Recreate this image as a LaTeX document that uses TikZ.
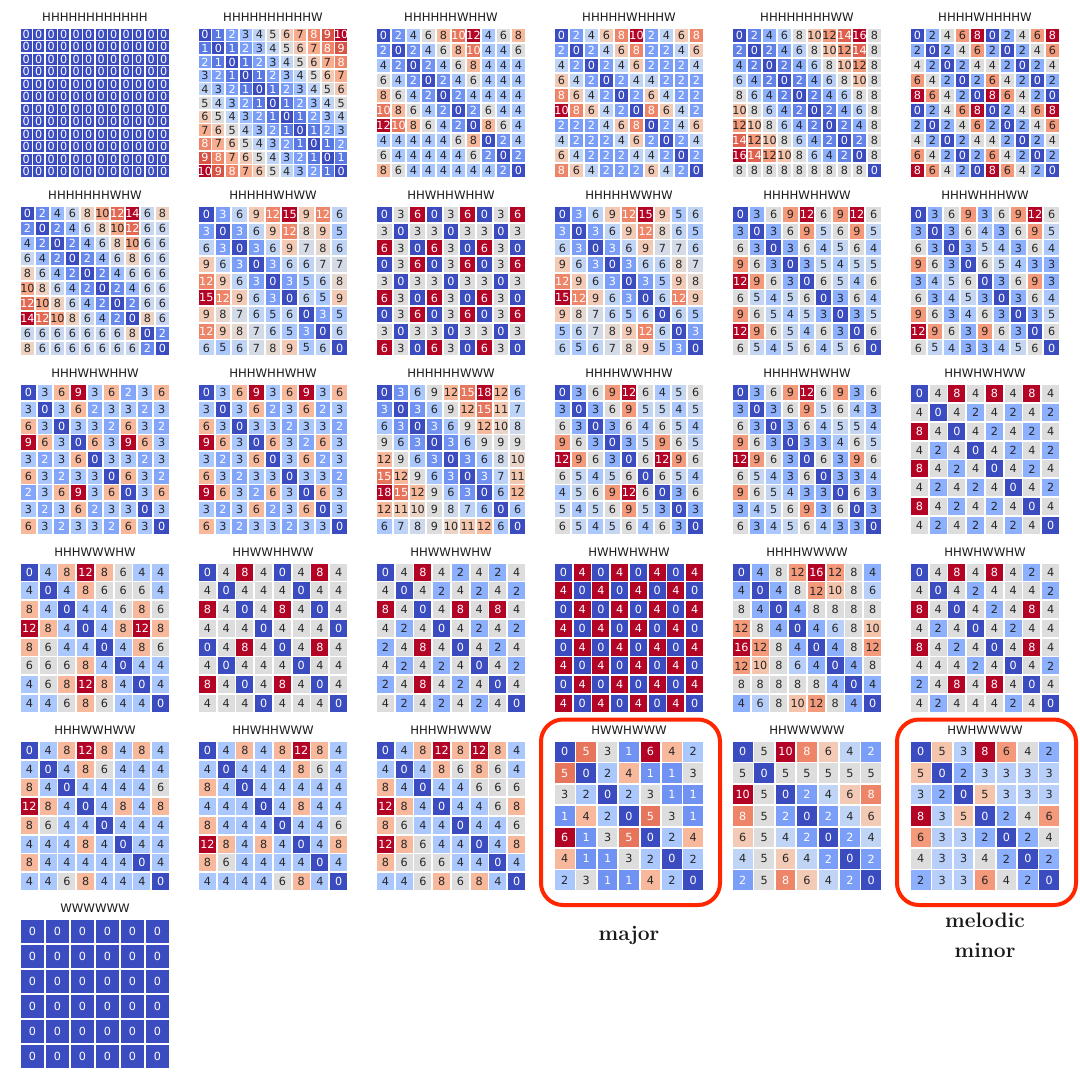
\documentclass[tikz,border=0pt]{standalone}
\usepackage{fontspec}
\newfontfamily\djv{DejaVu Sans}
\ExplSyntaxOn
\intarray_new:Nn \g__my_P_intarray {30}
\intarray_new:Nn \g__my_D_intarray {150}
\int_new:N \g_my_n_int
\int_new:N \g_my_max_int
\int_new:N \l__my_acc_int
\int_new:N \l__my_sum_int
\int_new:N \l__my_idx_int
\int_new:N \l__my_rem_int
\intarray_const_from_clist:Nn \c_my_R_intarray {59,68,77,87,98,108,119,130,141,152,163,174,184,194,204,213,221,229,236,241,245,247,247,247,244,241,236,229,222,213,203,192,180}
\intarray_const_from_clist:Nn \c_my_G_intarray {76,90,104,117,130,142,154,165,176,185,194,201,208,213,217,219,221,216,211,204,196,187,177,166,154,141,127,112,96,80,62,40,4}
\intarray_const_from_clist:Nn \c_my_B_intarray {192,204,215,225,234,241,247,251,254,255,255,253,249,244,238,230,221,209,197,184,172,159,147,134,123,111,99,89,77,66,56,47,38}
\cs_new_protected:Npn \mycompute #1
  {
    \int_gzero:N \g_my_n_int
    \int_zero:N \l__my_acc_int
    \tl_map_inline:nn {#1}
      {
        \int_gincr:N \g_my_n_int
        \intarray_gset:Nnn \g__my_P_intarray { \g_my_n_int } { \l__my_acc_int }
        \str_if_eq:nnTF {##1} {H}
          { \int_add:Nn \l__my_acc_int {1} }
          { \int_add:Nn \l__my_acc_int {2} }
      }
    \int_step_inline:nn { \g_my_n_int }
      {
        \intarray_gset:Nnn \g__my_P_intarray { \g_my_n_int + ##1 }
          { \intarray_item:Nn \g__my_P_intarray {##1} + 12 }
      }
    \int_gzero:N \g_my_max_int
    \int_step_inline:nn { \g_my_n_int }
      {
        \int_step_inline:nn { \g_my_n_int }
          {
            \int_zero:N \l__my_sum_int
            \int_step_inline:nnn {0} { \g_my_n_int - 1 }
              {
                \int_add:Nn \l__my_sum_int
                  {
                    \int_abs:n
                      {
                        \intarray_item:Nn \g__my_P_intarray { ##1 + ########1 }
                        - \intarray_item:Nn \g__my_P_intarray { ##1 }
                        - \intarray_item:Nn \g__my_P_intarray { ####1 + ########1 }
                        + \intarray_item:Nn \g__my_P_intarray { ####1 }
                      }
                  }
              }
            \intarray_gset:Nnn \g__my_D_intarray { (##1 - 1) * \g_my_n_int + ####1 } { \l__my_sum_int }
            \int_compare:nNnT { \l__my_sum_int } > { \g_my_max_int }
              { \int_gset_eq:NN \g_my_max_int \l__my_sum_int }
          }
      }
  }
\cs_new:Npn \mydist #1 #2
  { \intarray_item:Nn \g__my_D_intarray { (#1) * \g_my_n_int + (#2) + 1 } }
\cs_new:Npn \mynn { \int_use:N \g_my_n_int }
\cs_new:Npn \mymax { \int_use:N \g_my_max_int }
\cs_new:Npn \__my_comp:Nn #1 #2
  {
    \int_eval:n
      {
        \intarray_item:Nn #1 { \l__my_idx_int + 1 }
        + \int_div_round:nn
          { ( \intarray_item:Nn #1 { \l__my_idx_int + 2 } - \intarray_item:Nn #1 { \l__my_idx_int + 1 } ) * \l__my_rem_int }
          {#2}
      }
  }
\cs_new_protected:Npn \__my_defcolor:n #1
  {
    \use:x
      {
        \exp_not:N \definecolor {cellc} {RGB}
          { \__my_comp:Nn \c_my_R_intarray {#1} , \__my_comp:Nn \c_my_G_intarray {#1} , \__my_comp:Nn \c_my_B_intarray {#1} }
      }
  }
\cs_new_protected:Npn \mysetcolor #1 #2
  {
    \int_compare:nNnTF {#2} = {0}
      {
        \int_zero:N \l__my_idx_int
        \int_zero:N \l__my_rem_int
        \def\mytextcol{white}
        \__my_defcolor:n {1}
      }
      {
        \int_set:Nn \l__my_idx_int { \int_div_truncate:nn { 32 * (#1) } {#2} }
        \int_set:Nn \l__my_rem_int { 32 * (#1) - \l__my_idx_int * (#2) }
        \int_compare:nNnT { \l__my_idx_int } = {32}
          { \int_set:Nn \l__my_idx_int {31} \int_set:Nn \l__my_rem_int {#2} }
        \__my_defcolor:n {#2}
        \bool_if:nTF
          { \int_compare_p:nNn {1000*(#1)} < {232*(#2)} || \int_compare_p:nNn {1000*(#1)} > {769*(#2)} }
          { \def\mytextcol{white} }
          { \def\mytextcol{black!85} }
      }
  }
\ExplSyntaxOff
\definecolor{hlred}{RGB}{255,38,0}
\newcommand\drawmat[4]{%
  \mycompute{#4}%
  \pgfmathsetmacro\cellsz{150/\mynn}%
  \pgfmathtruncatemacro\nmo{\mynn-1}%
  \node[ttl] (#1) at ({#2+75},{#3-11}) {#4};
  \foreach \i in {0,...,\nmo}{%
    \foreach \j in {0,...,\nmo}{%
      \edef\val{\mydist{\i}{\j}}%
      \mysetcolor{\val}{\mymax}%
      \fill[cellc] ({#2+\j*\cellsz+0.85},{#3+\i*\cellsz+0.85}) rectangle ++({\cellsz-1.7},{\cellsz-1.7});
      \node[num,text=\mytextcol] (#1-\i-\j) at ({#2+(\j+0.5)*\cellsz},{#3+(\i+0.5)*\cellsz}) {\val};
    }%
  }%
}
\begin{document}
\begin{tikzpicture}[x=1pt,y=-1pt,
  ttl/.style={font=\djv\fontsize{11.7}{14}\selectfont,text=black!90,inner sep=0pt},
  num/.style={font=\djv\fontsize{11.2}{13}\selectfont,inner sep=0pt},
  hl/.style={draw=hlred,line width=4pt,rounded corners=22pt},
  lab/.style={font=\bfseries\fontsize{21}{30}\selectfont,align=center,text=black!90}]
\useasboundingbox (0,0) rectangle (1080,1080);
% row 1
\drawmat{a1}{20}{28}{HHHHHHHHHHHH}
\drawmat{a2}{198}{28}{HHHHHHHHHHW}
\drawmat{a3}{376}{28}{HHHHHHWHHW}
\drawmat{a4}{554}{28}{HHHHHWHHHW}
\drawmat{a5}{732}{28}{HHHHHHHHWW}
\drawmat{a6}{910}{28}{HHHHWHHHHW}
% row 2
\drawmat{b1}{20}{206.25}{HHHHHHHWHW}
\drawmat{b2}{198}{206.25}{HHHHHWHWW}
\drawmat{b3}{376}{206.25}{HHWHHWHHW}
\drawmat{b4}{554}{206.25}{HHHHHWWHW}
\drawmat{b5}{732}{206.25}{HHHHWHHWW}
\drawmat{b6}{910}{206.25}{HHHWHHHWW}
% row 3
\drawmat{c1}{20}{384.5}{HHHWHWHHW}
\drawmat{c2}{198}{384.5}{HHHWHHWHW}
\drawmat{c3}{376}{384.5}{HHHHHHWWW}
\drawmat{c4}{554}{384.5}{HHHHWWHHW}
\drawmat{c5}{732}{384.5}{HHHHWHWHW}
\drawmat{c6}{910}{384.5}{HHWHWHWW}
% row 4
\drawmat{d1}{20}{562.75}{HHHWWWHW}
\drawmat{d2}{198}{562.75}{HHWWHHWW}
\drawmat{d3}{376}{562.75}{HHWWHWHW}
\drawmat{d4}{554}{562.75}{HWHWHWHW}
\drawmat{d5}{732}{562.75}{HHHHWWWW}
\drawmat{d6}{910}{562.75}{HHWHWWHW}
% row 5
\drawmat{e1}{20}{741}{HHHWWHWW}
\drawmat{e2}{198}{741}{HHWHHWWW}
\drawmat{e3}{376}{741}{HHHWHWWW}
\drawmat{e4}{554}{741}{HWWHWWW}
\drawmat{e5}{732}{741}{HHWWWWW}
\drawmat{e6}{910}{741}{HWHWWWW}
% row 6
\drawmat{f1}{20}{919.25}{WWWWWW}
% highlights
\draw[hl] (541,719.5) rectangle (720,905);
\draw[hl] (897,719.5) rectangle (1076,905);
\node[lab] (majorlab) at (629,935) {major};
\node[lab] (mmlab) at (985,935) {melodic\\minor};
\end{tikzpicture}
\end{document}
